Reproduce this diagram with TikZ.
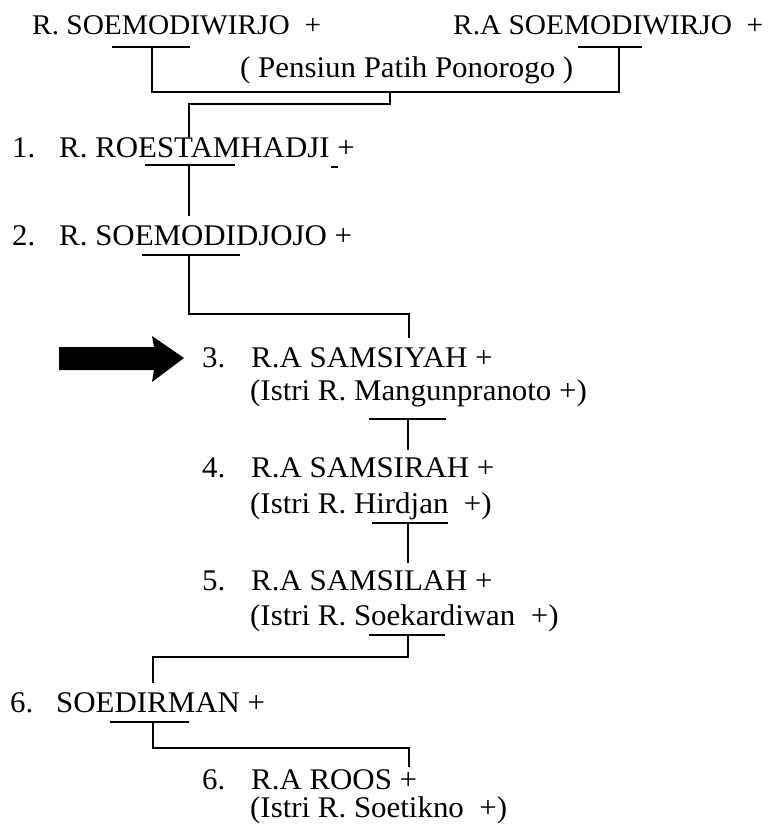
\documentclass[tikz,border=0pt]{standalone}
\usepackage{fontspec}
\setmainfont[FakeStretch=1.03]{Liberation Serif}
\begin{document}
\begin{tikzpicture}[x=1pt,y=-1pt,
  txt/.style={anchor=base west,inner sep=0pt,font=\fontsize{30}{34}\selectfont},
  bigtxt/.style={txt,font=\fontsize{28.5}{34}\selectfont},
  link/.style={line width=1.4pt},
  uline/.style={line width=1.7pt},
  bigarrow/.style={fill=black}]
\useasboundingbox (0,0) rectangle (769,828);

% texts
\node[bigtxt] (p1) at (32,34) {R. SOEMODIWIRJO\ \ +};
\node[bigtxt] (p2) at (453,34) {R.A SOEMODIWIRJO\ \ +};
\node[txt] (pens) at (240,77) {( Pensiun Patih Ponorogo )};
\node[txt] (n1) at (12,157) {1.};
\node[txt] (c1) at (59,157) {R. ROESTAMHADJI +};
\node[txt] (n2) at (12,245) {2.};
\node[txt] (c2) at (59,245) {R. SOEMODIDJOJO +};
\node[txt] (n3) at (202,367) {3.};
\node[txt] (c3) at (251,367) {R.A SAMSIYAH +};
\node[txt] (s3) at (250,400) {(Istri R. Mangunpranoto +)};
\node[txt] (n4) at (202,477) {4.};
\node[txt] (c4) at (251,477) {R.A SAMSIRAH +};
\node[txt] (s4) at (250,513) {(Istri R. Hirdjan\ \ +)};
\node[txt] (n5) at (202,590) {5.};
\node[txt] (c5) at (251,590) {R.A SAMSILAH +};
\node[txt] (s5) at (250,625) {(Istri R. Soekardiwan\ \ +)};
\node[txt] (n6) at (10,712) {6.};
\node[txt] (c6) at (56,712) {SOEDIRMAN +};
\node[txt] (n7) at (202,789) {6.};
\node[txt] (c7) at (251,789) {R.A ROOS +};
\node[txt] (s7) at (250,817) {(Istri R. Soetikno\ \ +)};

% coordinates
\coordinate (u1a) at (112,47); \coordinate (u1b) at (190,47); \coordinate (u1m) at (152,47);
\coordinate (u2a) at (578,47); \coordinate (u2b) at (642,47); \coordinate (u2m) at (619,47);
\coordinate (j0a) at (152,92); \coordinate (j0b) at (619,92); \coordinate (j0m) at (390,92);
\coordinate (j0c) at (390,104); \coordinate (j0d) at (189,104); \coordinate (j0e) at (189,137);
\coordinate (u3a) at (145,165); \coordinate (u3b) at (235,165); \coordinate (u3m) at (189,165);
\coordinate (dsa) at (331,167); \coordinate (dsb) at (338,167);
\coordinate (t2) at (189,216);
\coordinate (u4a) at (142,255); \coordinate (u4b) at (240,255); \coordinate (u4m) at (189,255);
\coordinate (j1a) at (189,314); \coordinate (j1b) at (409,314); \coordinate (j1c) at (409,338);
\coordinate (u5a) at (369,419); \coordinate (u5b) at (446,419); \coordinate (u5m) at (408,419);
\coordinate (t4) at (408,450);
\coordinate (u6a) at (372,523); \coordinate (u6b) at (448,523); \coordinate (u6m) at (408,523);
\coordinate (t5) at (408,563);
\coordinate (u7a) at (369,635); \coordinate (u7b) at (445,635); \coordinate (u7m) at (408,635);
\coordinate (j2a) at (408,657); \coordinate (j2b) at (152,657); \coordinate (j2m) at (153,657); \coordinate (j2c) at (153,683);
\coordinate (u8a) at (110,722); \coordinate (u8b) at (189,722); \coordinate (u8m) at (153,722);
\coordinate (j3a) at (153,748); \coordinate (j3b) at (409,748); \coordinate (j3c) at (409,767);

% underlines
\draw[uline] (u1a) -- (u1b);
\draw[uline] (u2a) -- (u2b);
\draw[uline] (u3a) -- (u3b);
\draw[uline] (dsa) -- (dsb);
\draw[uline] (u4a) -- (u4b);
\draw[uline] (u5a) -- (u5b);
\draw[uline] (u6a) -- (u6b);
\draw[uline] (u7a) -- (u7b);
\draw[uline] (u8a) -- (u8b);

% connectors
\draw[link] (u1m) -- (j0a) -- (j0b) -- (u2m);
\draw[link] (j0m) -- (j0c) -- (j0d) -- (j0e);
\draw[link] (u3m) -- (t2);
\draw[link] (u4m) -- (j1a) -- (j1b) -- (j1c);
\draw[link] (u5m) -- (t4);
\draw[link] (u6m) -- (t5);
\draw[link] (u7m) -- (j2a) -- (j2b);
\draw[link] (j2m) -- (j2c);
\draw[link] (u8m) -- (j3a) -- (j3b) -- (j3c);

% big arrow
\fill[bigarrow] (59,347) -- (154,347) -- (152,336) -- (184,358) -- (152,382) -- (154,370) -- (59,370) -- cycle;
\end{tikzpicture}
\end{document}
